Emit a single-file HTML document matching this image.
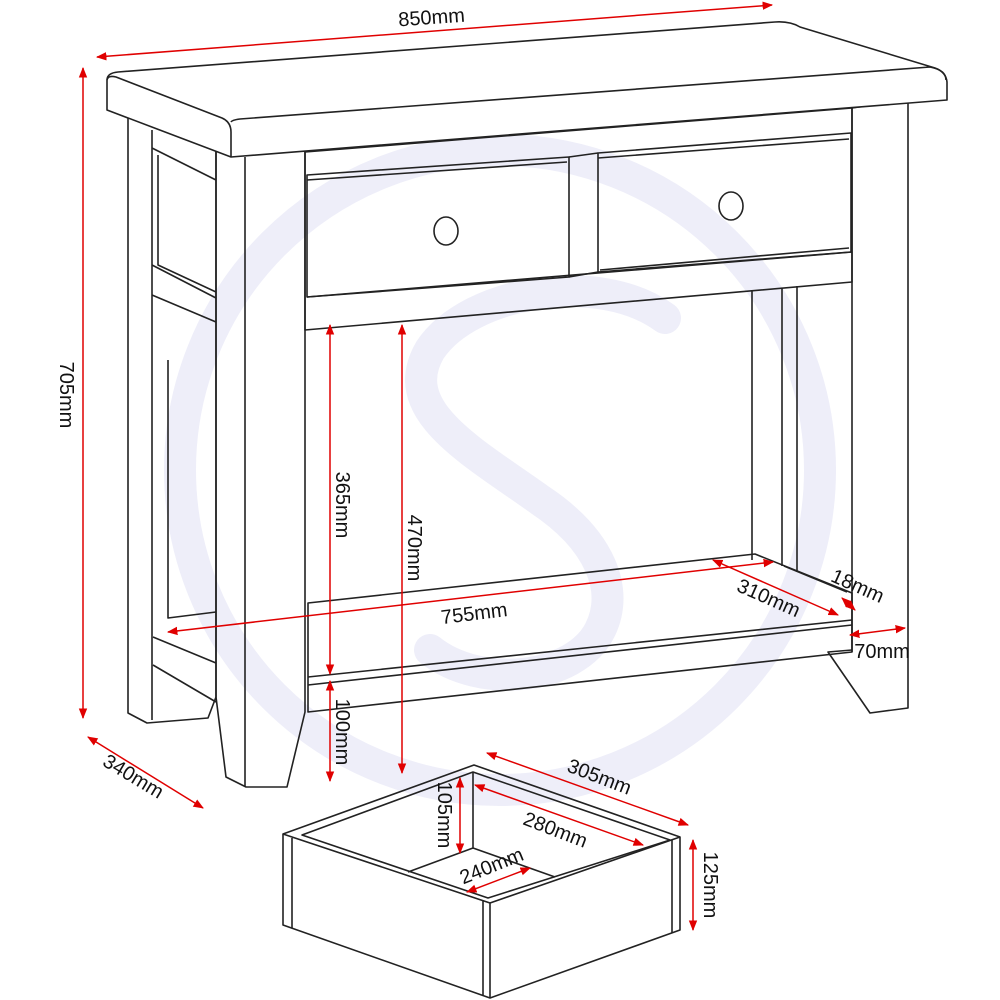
<!DOCTYPE html>
<html><head><meta charset="utf-8"><style>html,body{margin:0;padding:0;background:#fff}svg{display:block}text{font-family:"Liberation Sans",sans-serif;font-size:20px;fill:#111}</style></head>
<body>
<svg width="1000" height="1000" viewBox="0 0 1000 1000" xmlns="http://www.w3.org/2000/svg">
<defs>
<marker id="a" viewBox="0 0 10 10" refX="9" refY="5" markerWidth="7" markerHeight="7" orient="auto-start-reverse"><path d="M0,1 L10,5 L0,9 z" fill="#e00000"/></marker>
</defs>
<!-- logo -->
<g fill="none" stroke="#eeeef9" stroke-linecap="round">
<circle cx="500" cy="470" r="320" stroke-width="32"/>
<path d="M665,318 C600,270 470,290 430,350 C395,410 470,450 540,500 C600,540 620,590 600,630 C575,680 480,690 430,650" stroke-width="32"/>
</g>
<g fill="none" stroke="#222" stroke-width="1.6" stroke-linejoin="round">
<path d="M128,118 L128,713 L147,723 L208,718 L216,697 L216,150"/>
<path d="M152,130 L152,720"/>
<path d="M152,148 L216,180 M158,155 L158,265 L216,292 M152,265 L216,298 M152,295 L216,322"/>
<path d="M168,360 L168,618 L216,612"/>
<path d="M153,637 L216,663 M153,665 L216,702"/>
<path d="M752,290 L752,560 M782,288 L782,566 M797,286 L797,572"/>
<path d="M308,603 L755,554 L852,593 L852,652 L308,712 Z"/>
<path d="M784,566 L847,592"/>
<path d="M308,677 L852,620 M308,685 L852,625"/>
<path d="M852,108 L908,100 L908,708 L870,713 L828,652 L852,650"/>
<path d="M852,108 L852,652"/>
<path d="M305,152 L852,108 L852,282 L305,330 Z"/>
<path d="M307,297 L852,252"/>
<path d="M307,175 L569,157 L569,277 L307,297 Z"/>
<path d="M307,180 L567,162"/>
<path d="M598,153 L851,133 L851,252 L598,272 Z"/>
<path d="M598,158 L849,139 M600,270 L849,248"/>
<path d="M569,157 L598,153 M569,277 L598,272"/>
<ellipse cx="446" cy="231" rx="12" ry="14"/>
<ellipse cx="731" cy="206" rx="12" ry="14"/>
<path d="M216,150 L305,150 L305,712 L287,787 L246,787 L226,777 L216,697 Z"/>
<path d="M245,157 L245,787"/>
<path d="M107,80 Q107,73 118,72 L775,22 Q790,21 800,27 L935,68 Q946,72 947,82 L947,100 L231,157 L107,110 Z" fill="#fff"/>
<path d="M107,80 Q108,75 116,77 L222,118 Q231,122 231,132 L231,157"/>
<path d="M231,122 Q232,120 240,119 L930,67 Q946,70 946,80"/>
<path d="M283,834 L474,765 L680,837 L680,930 L490,998 L283,925 Z"/>
<path d="M302,835 L473,772 L670,840 L488,898 Z"/>
<path d="M283,834 L490,903 L680,837 M490,903 L490,998 M483,900 L483,996"/>
<path d="M292,838 L292,928 M672,840 L672,933"/>
<path d="M473,772 L473,848 L408,872 M473,848 L555,877"/>
</g>
<g stroke="#e00000" stroke-width="1.5" fill="none" marker-start="url(#a)" marker-end="url(#a)">
<line x1="97" y1="57" x2="772" y2="5"/>
<line x1="83" y1="68" x2="83" y2="718"/>
<line x1="88" y1="737" x2="203" y2="808"/>
<line x1="330" y1="325" x2="330" y2="674"/>
<line x1="402" y1="325" x2="402" y2="773"/>
<line x1="330" y1="681" x2="330" y2="781"/>
<line x1="168" y1="632" x2="773" y2="562"/>
<line x1="713" y1="560" x2="838" y2="615"/>
<line x1="842" y1="598" x2="855" y2="610"/>
<line x1="850" y1="635" x2="905" y2="628"/>
<line x1="487" y1="753" x2="688" y2="825"/>
<line x1="460" y1="778" x2="460" y2="853"/>
<line x1="475" y1="785" x2="643" y2="845"/>
<line x1="467" y1="892" x2="530" y2="868"/>
<line x1="693" y1="840" x2="693" y2="930"/>
</g>
<g>
<text transform="translate(432,24) rotate(-4)" text-anchor="middle">850mm</text>
<text transform="translate(60,395) rotate(90)" text-anchor="middle">705mm</text>
<text transform="translate(130,782) rotate(31)" text-anchor="middle">340mm</text>
<text transform="translate(336,505) rotate(90)" text-anchor="middle">365mm</text>
<text transform="translate(408,548) rotate(90)" text-anchor="middle">470mm</text>
<text transform="translate(336,732) rotate(90)" text-anchor="middle">100mm</text>
<text transform="translate(475,620) rotate(-7)" text-anchor="middle">755mm</text>
<text transform="translate(766,604) rotate(24)" text-anchor="middle">310mm</text>
<text transform="translate(855,592) rotate(24)" text-anchor="middle">18mm</text>
<text transform="translate(882,658)" text-anchor="middle">70mm</text>
<text transform="translate(597,783) rotate(21)" text-anchor="middle">305mm</text>
<text transform="translate(438,815) rotate(90)" text-anchor="middle">105mm</text>
<text transform="translate(553,836) rotate(21)" text-anchor="middle">280mm</text>
<text transform="translate(494,872) rotate(-22)" text-anchor="middle">240mm</text>
<text transform="translate(704,885) rotate(90)" text-anchor="middle">125mm</text>
</g>
</svg>
</body></html>
